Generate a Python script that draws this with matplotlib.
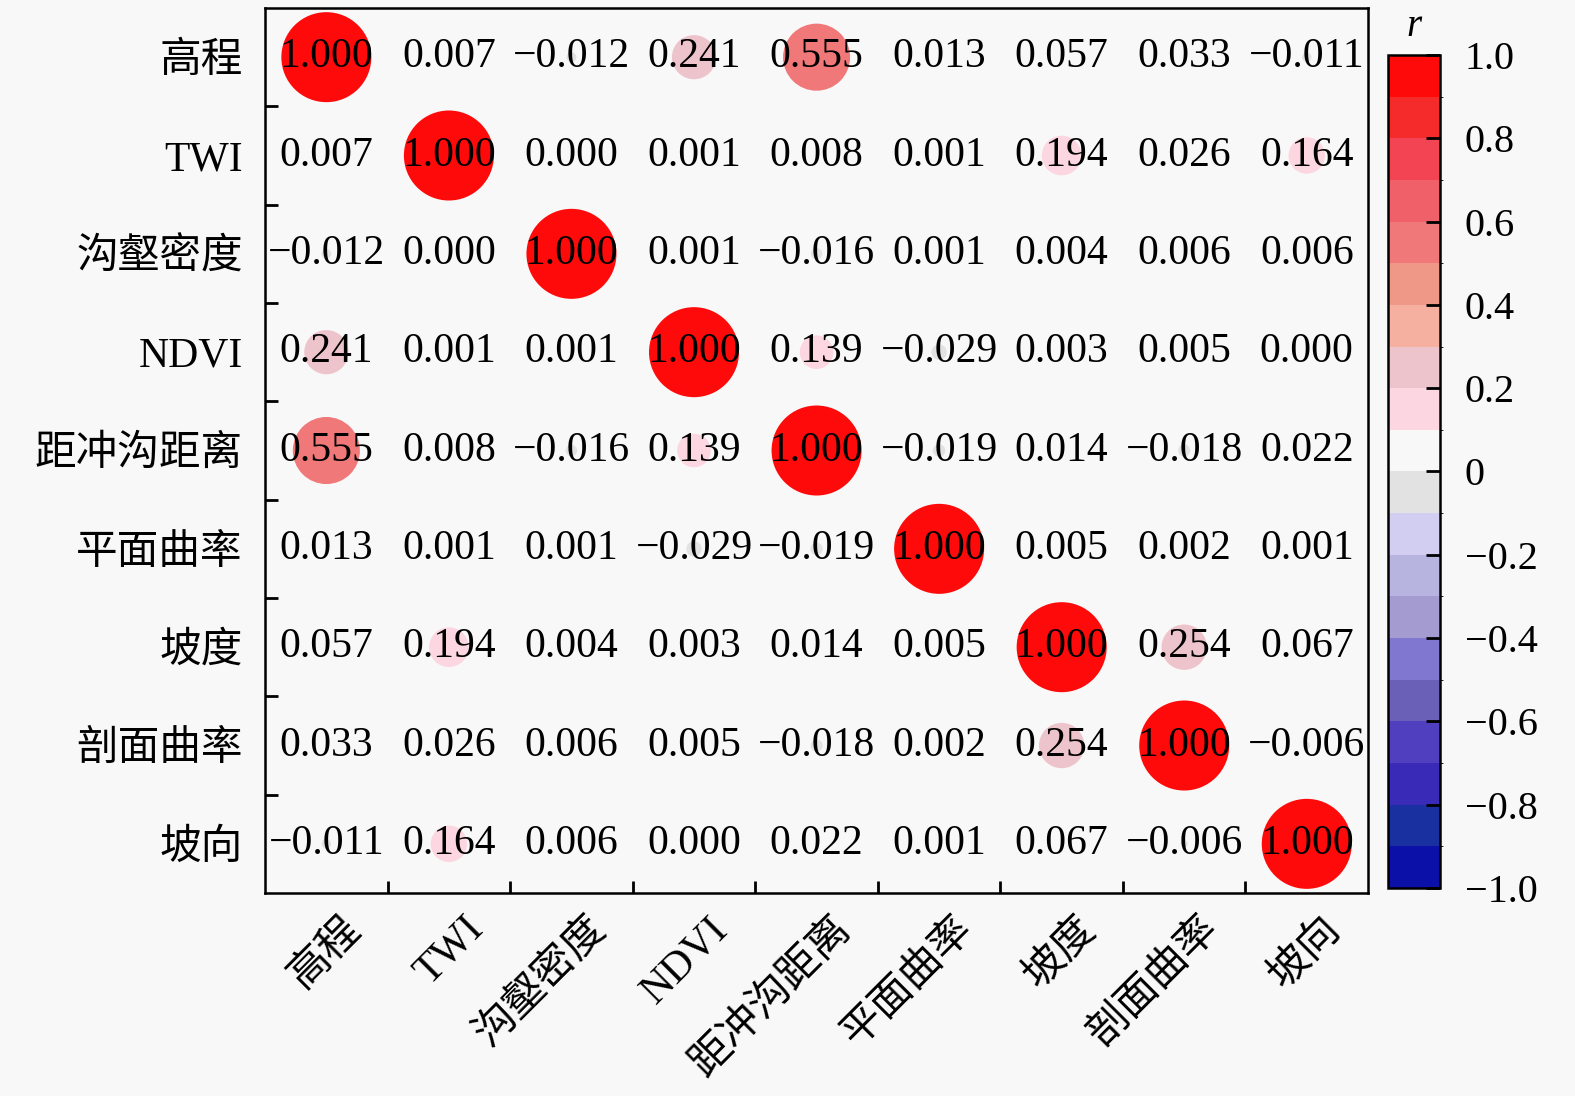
import numpy as np
import matplotlib
matplotlib.use("Agg")
from matplotlib import pyplot as plt
from matplotlib.colors import ListedColormap, BoundaryNorm
from matplotlib.ticker import FixedLocator

plt.rcParams['font.family'] = ['Liberation Serif', 'Noto Sans CJK SC', 'DejaVu Sans']
plt.rcParams['axes.unicode_minus'] = True

# Factor names
factors = ['高程', 'TWI', '沟壑密度', 'NDVI', '距冲沟距离', '平面曲率', '坡度', '剖面曲率', '坡向']

# Correlation coefficients (row by row)
r_elev = [1.000, 0.007, -0.012, 0.241, 0.555, 0.013, 0.057, 0.033, -0.011]
r_twi = [0.007, 1.000, 0.000, 0.001, 0.008, 0.001, 0.194, 0.026, 0.164]
r_gully = [-0.012, 0.000, 1.000, 0.001, -0.016, 0.001, 0.004, 0.006, 0.006]
r_ndvi = [0.241, 0.001, 0.001, 1.000, 0.139, -0.029, 0.003, 0.005, 0.000]
r_dist = [0.555, 0.008, -0.016, 0.139, 1.000, -0.019, 0.014, -0.018, 0.022]
r_plan = [0.013, 0.001, 0.001, -0.029, -0.019, 1.000, 0.005, 0.002, 0.001]
r_slope = [0.057, 0.194, 0.004, 0.003, 0.014, 0.005, 1.000, 0.254, 0.067]
r_prof = [0.033, 0.026, 0.006, 0.005, -0.018, 0.002, 0.254, 1.000, -0.006]
r_aspect = [-0.011, 0.164, 0.006, 0.000, 0.022, 0.001, 0.067, -0.006, 1.000]

corr = np.array([r_elev, r_twi, r_gully, r_ndvi, r_dist, r_plan, r_slope, r_prof, r_aspect])

# Colourbar ticks
cbar_ticks = [1.0, 0.8, 0.6, 0.4, 0.2, 0.0, -0.2, -0.4, -0.6, -0.8, -1.0]
cbar_labels = ['1.0', '0.8', '0.6', '0.4', '0.2', '0', '\u22120.2', '\u22120.4', '\u22120.6', '\u22120.8', '\u22121.0']

# Discrete blue-white-red colour levels (from -1 up to 1)
level_colors = ['#0a10a8', '#1830a0', '#3a2ab8', '#5040c0', '#6a60b8',
                '#8078d0', '#a49cd0', '#b8b4e0', '#d2cef2', '#e2e2e2',
                '#f8f8f8', '#fcd6e0', '#eec4cc', '#f6b0a0', '#f09888',
                '#f07878', '#f06068', '#f24452', '#f52a2a', '#ff0a0a']
cmap = ListedColormap(level_colors)
norm = BoundaryNorm(np.linspace(-1, 1, 21), cmap.N)

bg = '#f8f8f8'
fig = plt.figure(figsize=(15.75, 10.96), dpi=100, facecolor=bg)
ax = fig.add_axes([0.1683, 0.1852, 0.8686 - 0.1683, 0.9927 - 0.1852])
ax.set_facecolor(bg)

n = len(factors)
xs, ys = np.meshgrid(np.arange(n), np.arange(n))
vals = corr.flatten()
sc = ax.scatter(xs.flatten(), ys.flatten(), s=4200 * np.abs(vals), c=vals,
                cmap=cmap, norm=norm, linewidths=0, zorder=2)

for i in range(n):
    for j in range(n):
        txt = '{:.3f}'.format(corr[i, j]).replace('-', '\u2212')
        ax.text(j, i, txt, ha='center', va='center', fontsize=30, color='black', zorder=3)

ax.set_xlim(-0.5, n - 0.5)
ax.set_ylim(n - 0.5, -0.5)

# Labels near cell centres (rotated x labels nudged right), tick marks at cell borders
ax.xaxis.set_major_locator(FixedLocator(np.arange(n) + 0.12))
ax.yaxis.set_major_locator(FixedLocator(np.arange(n)))
ax.set_xticklabels(factors, rotation=45, ha='right', va='top', rotation_mode='anchor', fontsize=30)
ax.set_yticklabels(factors, fontsize=30)
ax.xaxis.set_minor_locator(FixedLocator(np.arange(n - 1) + 0.5))
ax.yaxis.set_minor_locator(FixedLocator(np.arange(n - 1) + 0.5))
ax.tick_params(which='major', length=0, pad=16)
ax.tick_params(axis='x', which='major', pad=12)
ax.tick_params(which='minor', direction='in', length=9, width=2)
for sp in ax.spines.values():
    sp.set_linewidth(1.8)

# Colourbar
cax = fig.add_axes([0.8812, 0.1898, 0.033, 0.760])
cb = fig.colorbar(sc, cax=cax)
cb.set_ticks(cbar_ticks)
cb.set_ticklabels(cbar_labels)
cb.ax.tick_params(direction='in', length=10, width=2, labelsize=29, pad=18)
cb.outline.set_linewidth(1.8)
cb.ax.set_title('r', fontsize=28, style='italic', pad=14)

fig.savefig('out.png', dpi=100, facecolor=bg)
